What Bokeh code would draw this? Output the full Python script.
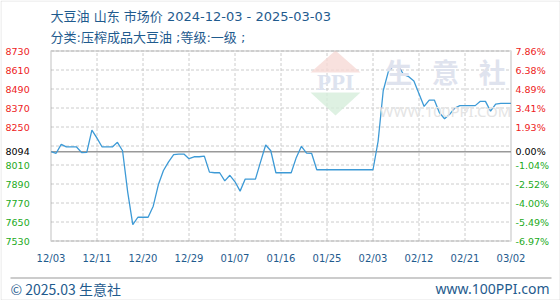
from bokeh.plotting import figure
from bokeh.models import (ColumnDataSource, Label, Range1d, BoxAnnotation, PolyAnnotation)
from bokeh.core.properties import value
from bokeh.embed import file_html
from bokeh.resources import INLINE

# ---------------- data ----------------
title_text = "大豆油 山东 市场价 2024-12-03 - 2025-03-03"
subtitle_text = "分类:压榨成品大豆油 ;等级:一级 ;"
footer_left = "© 2025.03 生意社"
footer_right = "www.100PPI.com"
base_price = 8094
x_labels = ["12/03", "12/11", "12/20", "12/29", "01/07", "01/16",
            "01/25", "02/03", "02/12", "02/21", "03/02"]
y_ticks = [8730, 8610, 8490, 8370, 8250, 8094, 8010, 7890, 7770, 7650, 7530]
grid_values = [8730, 8610, 8490, 8370, 8250, 8130, 8010, 7890, 7770, 7650, 7530]
# daily prices 2024-12-03 .. 2025-03-03 (day offsets 0..90)
prices = [8094, 8084, 8140, 8124, 8124, 8124, 8088, 8090, 8230, 8180,
          8124, 8124, 8124, 8153, 8100, 7840, 7633, 7680, 7680, 7680,
          7750, 7885, 7975, 8030, 8075, 8079, 8079, 8050, 8062, 8062,
          8066, 7965, 7961, 7961, 7910, 7945, 7904, 7845, 7921, 7921,
          7921, 8030, 8136, 8100, 7961, 7961, 7961, 7961, 8058, 8128,
          8085, 8083, 7980, 7980, 7980, 7980, 7980, 7980, 7980, 7980,
          7980, 7980, 7980, 7980, 8160, 8479, 8600, 8635, 8635, 8580,
          8568, 8540, 8460, 8380, 8420, 8420, 8340, 8302, 8330, 8370,
          8385, 8385, 8385, 8385, 8412, 8412, 8350, 8395, 8399, 8399,
          8399]
days = list(range(len(prices)))
span_days = days[-1]
y_hi, y_lo = max(y_ticks), min(y_ticks)

# ---------------- layout (pixels) ----------------
W, H = 560, 300
PL, PR, PT, PB = 50.5, 510.5, 50.5, 240.5   # plot-area edges on the canvas
kx = (PR - PL) / span_days
ky = (PB - PT) / (y_hi - y_lo)
x_start = -PL / kx
y_top = y_hi + PT / ky

def X(px):
    return x_start + px / kx

def Y(py):
    return y_top - py / ky

TEXT_BLUE = "#1f5b8e"
LINE_BLUE = "#3d9ad6"
GRID = "#cccccc"
FRAME = "#999999"
TITLE_FONT = value("DejaVu Sans, Noto Sans CJK SC")

p = figure(width=W, height=H, output_backend="svg", toolbar_location=None,
           x_range=Range1d(x_start, X(W)), y_range=Range1d(Y(H), y_top),
           min_border=0)
p.background_fill_color = "white"
p.border_fill_color = "white"
p.outline_line_color = None
p.xaxis.visible = False
p.yaxis.visible = False
p.grid.visible = False

n = len(x_labels)
tick_pos = [i * span_days / (n - 1) for i in range(n)]

# grid
p.segment(x0=tick_pos[1:-1], x1=tick_pos[1:-1], y0=y_lo, y1=y_hi,
          line_color=GRID, line_dash="3 2", line_width=1)
p.segment(x0=0, x1=span_days, y0=grid_values, y1=grid_values,
          line_color=GRID, line_dash="3 2", line_width=1)
p.segment(x0=[0], x1=[span_days], y0=[base_price], y1=[base_price],
          line_color=FRAME, line_width=1.5)

# watermark (screen units = canvas, y from bottom)
p.add_layout(PolyAnnotation(xs=[310, 360, 335], ys=[228, 228, 250],
                            xs_units="screen", ys_units="screen",
                            fill_color="#f6d9d6", fill_alpha=0.8, line_color=None))
p.add_layout(PolyAnnotation(xs=[310, 360, 335], ys=[208, 208, 185],
                            xs_units="screen", ys_units="screen",
                            fill_color="#d6eedb", fill_alpha=0.8, line_color=None))
p.add_layout(Label(x=335, y=218, x_units="screen", y_units="screen", text="PPI",
                   text_align="center", text_baseline="middle",
                   text_font="Liberation Serif", text_font_size="23px",
                   text_font_style="bold", text_color="#dde3ef"))
p.add_layout(Label(x=445, y=229, x_units="screen", y_units="screen",
                   text="生\u2002 意\u2002 社", text_align="center", text_baseline="middle",
                   text_font="Noto Sans CJK SC", text_font_size="27px",
                   text_font_style="bold", text_color="#dfe3ee"))
p.add_layout(Label(x=445, y=190, x_units="screen", y_units="screen",
                   text="WWW.100PPI.COM", text_align="center", text_baseline="middle",
                   text_font="Noto Sans", text_font_size="15px",
                   text_color="#e4e4e4"))

# plot frame
p.add_layout(BoxAnnotation(left=0, right=span_days, bottom=y_lo, top=y_hi,
                           fill_alpha=0, line_color=FRAME, line_width=2))

# series
p.line(days, prices, line_color=LINE_BLUE, line_width=1.3)

# x tick labels
p.text(x=tick_pos, y=[Y(258)] * n, text=x_labels, text_align="center",
       text_baseline="middle", text_color=TEXT_BLUE,
       text_font=value("DejaVu Sans"), text_font_size="10px")

# y labels (coloured)
def col(v):
    return "#ee2222" if v > base_price else ("#000000" if v == base_price else "#22aa22")

colors = [col(v) for v in y_ticks]
left_src = ColumnDataSource(dict(x=[X(5)] * len(y_ticks), y=y_ticks,
                                 text=[str(v) for v in y_ticks], color=colors))
right_src = ColumnDataSource(dict(
    x=[X(515)] * len(y_ticks), y=y_ticks,
    text=["%.2f%%" % ((v - base_price) / base_price * 100) for v in y_ticks],
    color=colors))
for src in (left_src, right_src):
    p.text(x="x", y="y", text="text", source=src, text_color="color",
           text_align="left", text_baseline="middle",
           text_font=value("DejaVu Sans"), text_font_size="9.5px")

# titles
p.text(x=[X(50)], y=[Y(16)], text=[title_text], text_align="left",
       text_baseline="middle", text_color=TEXT_BLUE,
       text_font=TITLE_FONT, text_font_size="13px")
p.text(x=[X(50)], y=[Y(37)], text=[subtitle_text], text_align="left",
       text_baseline="middle", text_color=TEXT_BLUE,
       text_font=TITLE_FONT, text_font_size="13px")

# footer
p.segment(x0=[X(10)], x1=[X(551)], y0=[Y(277.5)], y1=[Y(277.5)],
          line_color=FRAME, line_width=1)
p.text(x=[X(10)], y=[Y(288)], text=[footer_left], text_align="left",
       text_baseline="middle", text_color=TEXT_BLUE,
       text_font=value("Noto Sans CJK SC"), text_font_size="14px")
p.text(x=[X(549)], y=[Y(288)], text=[footer_right], text_align="right",
       text_baseline="middle", text_color=TEXT_BLUE,
       text_font=value("Noto Sans"), text_font_size="14px")

# outer border
p.add_layout(BoxAnnotation(left=0.5, right=W - 0.5, bottom=0.5, top=H - 0.5,
                           left_units="screen", right_units="screen",
                           bottom_units="screen", top_units="screen",
                           fill_alpha=0, line_color="#aaaaaa", line_width=1))

open("out.html", "w").write(file_html(p, INLINE))
